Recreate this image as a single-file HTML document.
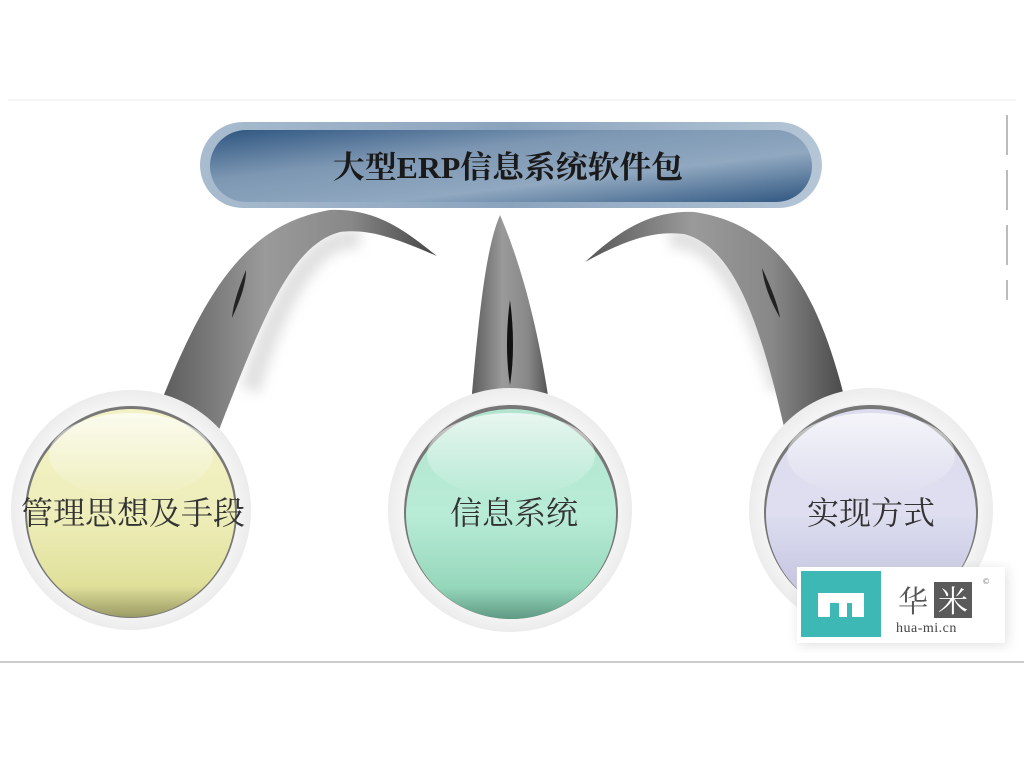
<!DOCTYPE html>
<html><head><meta charset="utf-8"><style>
html,body{margin:0;padding:0;background:#fff;}
svg{display:block}
text{font-family:"Liberation Serif","Noto Serif CJK SC","Noto Sans CJK SC",serif;}
</style></head><body>
<svg width="1024" height="768" viewBox="0 0 1024 768" xmlns="http://www.w3.org/2000/svg">
<defs>
<linearGradient id="pillOuter" x1="0" y1="0" x2="1" y2="0">
<stop offset="0" stop-color="#a9bccf"/><stop offset="0.5" stop-color="#8aa3bd"/><stop offset="1" stop-color="#b5c6d6"/></linearGradient>
<linearGradient id="pill" x1="0" y1="0" x2="1" y2="1">
<stop offset="0" stop-color="#2e5580"/><stop offset="0.35" stop-color="#7d97b3"/><stop offset="0.65" stop-color="#90a8c0"/><stop offset="1" stop-color="#2e5580"/></linearGradient>
<linearGradient id="horn" x1="0" y1="0" x2="1" y2="0">
<stop offset="0" stop-color="#555"/><stop offset="0.4" stop-color="#9a9a9a"/><stop offset="0.7" stop-color="#888"/><stop offset="1" stop-color="#444"/></linearGradient>
<radialGradient id="ring" cx="0.5" cy="0.5" r="0.5">
<stop offset="0.8" stop-color="#d8d8d8"/><stop offset="0.88" stop-color="#f4f4f4"/><stop offset="1" stop-color="#ececec"/></radialGradient>
<linearGradient id="yel" x1="0" y1="0" x2="0" y2="1">
<stop offset="0" stop-color="#f2f2c6"/><stop offset="0.5" stop-color="#eeeebb"/><stop offset="0.85" stop-color="#e0e09a"/><stop offset="1" stop-color="#9b9b66"/></linearGradient>
<linearGradient id="grn" x1="0" y1="0" x2="0" y2="1">
<stop offset="0" stop-color="#b2e4cf"/><stop offset="0.5" stop-color="#b9ecd7"/><stop offset="0.85" stop-color="#95d7bb"/><stop offset="1" stop-color="#5f9a84"/></linearGradient>
<linearGradient id="lav" x1="0" y1="0" x2="0" y2="1">
<stop offset="0" stop-color="#dcdcee"/><stop offset="0.5" stop-color="#dedef0"/><stop offset="0.85" stop-color="#c5c5e2"/><stop offset="1" stop-color="#8f8fad"/></linearGradient>
<linearGradient id="gloss" x1="0" y1="0" x2="0" y2="1">
<stop offset="0" stop-color="#fff" stop-opacity="0.7"/><stop offset="1" stop-color="#fff" stop-opacity="0"/></linearGradient>
<filter id="blur"><feGaussianBlur stdDeviation="6"/></filter>
</defs>
<rect x="0" y="99" width="1024" height="564" fill="#fff"/>
<line x1="8" y1="100" x2="1016" y2="100" stroke="#eee"/>
<line x1="0" y1="662" x2="1024" y2="662" stroke="#ccc" stroke-width="2"/>
<line x1="1007" y1="115" x2="1007" y2="300" stroke="#bbb" stroke-width="2" stroke-dasharray="40,15"/>

<path d="M250,390 C280,290 320,230 360,240" stroke="#ccc" stroke-width="20" fill="none" filter="url(#blur)" opacity="0.6"/>
<path d="M780,390 C750,290 710,230 670,240" stroke="#ccc" stroke-width="20" fill="none" filter="url(#blur)" opacity="0.6"/>
<path d="M150,430 C200,300 240,225 330,210 C380,208 410,235 437,256 C400,240 370,228 340,232 C290,245 262,320 215,440 Z" fill="url(#horn)"/>
<path d="M468,440 C478,320 485,250 500,215 C515,250 540,320 554,440 Z" fill="url(#horn)"/>
<path d="M852,430 C824,300 784,225 694,212 C644,210 612,238 585,262 C622,242 652,230 684,234 C734,247 760,320 787,440 Z" fill="url(#horn)"/>
<path d="M510,300 C506,330 506,360 510,385 C514,360 514,330 510,300Z" fill="#111"/>
<path d="M246,270 C238,290 233,305 232,318 C240,300 246,285 246,270Z" fill="#222"/>
<path d="M762,268 C772,290 778,305 780,318 C770,300 764,285 762,268Z" fill="#222"/>

<rect x="200" y="122" width="622" height="86" rx="43" fill="url(#pillOuter)"/>
<rect x="210" y="130" width="602" height="72" rx="36" fill="url(#pill)"/>
<text x="508" y="178" font-size="31" font-weight="bold" text-anchor="middle" fill="#1a1a1a" textLength="350" lengthAdjust="spacingAndGlyphs">大型ERP信息系统软件包</text>

<g>
<circle cx="131" cy="510" r="120" fill="url(#ring)"/>
<circle cx="131" cy="512" r="106" fill="#777"/>
<circle cx="131" cy="513" r="104" fill="url(#yel)"/>
<ellipse cx="131" cy="455" rx="82" ry="42" fill="url(#gloss)"/>
<text x="133" y="524" font-size="32" text-anchor="middle" fill="#333" font-family="Liberation Sans,Noto Sans CJK SC,sans-serif">管理思想及手段</text>
</g>
<g>
<circle cx="510" cy="510" r="122" fill="url(#ring)"/>
<circle cx="511" cy="512" r="107" fill="#777"/>
<circle cx="511" cy="514" r="105" fill="url(#grn)"/>
<ellipse cx="511" cy="455" rx="84" ry="42" fill="url(#gloss)"/>
<text x="514" y="524" font-size="32" text-anchor="middle" fill="#333" font-family="Liberation Sans,Noto Sans CJK SC,sans-serif">信息系统</text>
</g>
<g>
<circle cx="871" cy="510" r="122" fill="url(#ring)"/>
<circle cx="871" cy="512" r="107" fill="#777"/>
<circle cx="871" cy="514" r="105" fill="url(#lav)"/>
<ellipse cx="871" cy="455" rx="84" ry="42" fill="url(#gloss)"/>
<text x="871" y="524" font-size="32" text-anchor="middle" fill="#333" font-family="Liberation Sans,Noto Sans CJK SC,sans-serif">实现方式</text>
</g>

<rect x="799" y="569" width="208" height="76" fill="#ccc" filter="url(#blur)" opacity="0.6"/>
<rect x="797" y="567" width="208" height="76" fill="#fff"/>
<rect x="801" y="571" width="80" height="66" fill="#3db8b5"/>
<path d="M818,593 h46 v24 h-12 v-14 h-5 v14 h-8 v-14 h-9 v14 h-12 Z" fill="#fff"/>
<text x="898" y="612" font-size="30" fill="#555" font-family="Noto Sans CJK SC,sans-serif">华</text>
<rect x="934" y="582" width="38" height="36" fill="#5a5a5a"/>
<text x="953" y="612" font-size="30" fill="#fff" text-anchor="middle" font-family="Noto Sans CJK SC,sans-serif">米</text>
<text x="983" y="584" font-size="8" fill="#555" font-family="Liberation Sans,sans-serif">©</text>
<text x="896" y="632" font-size="14" fill="#444" font-family="Liberation Sans,sans-serif" letter-spacing="0.5">hua-mi.cn</text>
</svg>
</body></html>
